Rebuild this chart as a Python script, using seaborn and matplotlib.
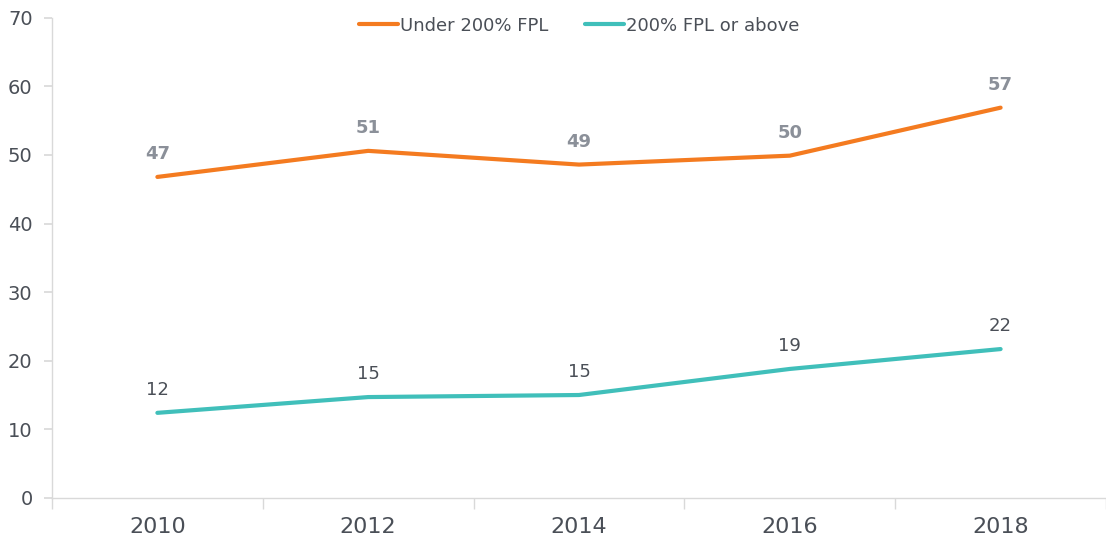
import matplotlib.pyplot as plt
import numpy as np
import pandas as pd
import seaborn as sns

YEARS = ["2010", "2012", "2014", "2016", "2018"]
UNDER_200 = [46.8, 50.6, 48.6, 49.9, 56.9]
ABOVE_200 = [12.4, 14.7, 15.0, 18.8, 21.7]
UNDER_LABELS = ["47", "51", "49", "50", "57"]
ABOVE_LABELS = ["12", "15", "15", "19", "22"]
SERIES = ["Under 200% FPL", "200% FPL or above"]

ORANGE = "#f47b20"
TEAL = "#40bfba"
TEXT = "#4a4f57"
GRID = "#d9d9d9"

df = pd.DataFrame({
    "pos": list(range(len(YEARS))) * 2,
    "value": UNDER_200 + ABOVE_200,
    "series": [SERIES[0]] * len(YEARS) + [SERIES[1]] * len(YEARS),
})

sns.set_theme(style="white")
plt.rcParams["font.family"] = ["DejaVu Sans"]

fig = plt.figure(figsize=(11.06, 5.4), dpi=100)
ax = fig.add_axes([0.047, 0.078, 0.953, 0.889])

sns.lineplot(data=df, x="pos", y="value", hue="series", palette=[ORANGE, TEAL],
             linewidth=3, ax=ax, legend=True)

for i, lab in enumerate(UNDER_LABELS):
    ax.annotate(lab, (i, UNDER_200[i]), xytext=(0, 10), textcoords="offset points",
                ha="center", va="bottom", fontsize=13, fontweight="bold", color="#8b9099")
for i, lab in enumerate(ABOVE_LABELS):
    ax.annotate(lab, (i, ABOVE_200[i]), xytext=(0, 10), textcoords="offset points",
                ha="center", va="bottom", fontsize=13, color=TEXT)

ax.set_xlim(-0.5, len(YEARS) - 0.5)
ax.set_ylim(0, 70)
ax.set_yticks(range(0, 71, 10))
ax.set_xticks(range(len(YEARS)))
ax.set_xticklabels(YEARS)
ax.set_xticks(np.arange(-0.5, len(YEARS), 1.0), minor=True)
ax.tick_params(axis="x", which="major", bottom=True, length=0, labelsize=16,
               labelcolor=TEXT, pad=14)
ax.tick_params(axis="x", which="minor", bottom=True, direction="out", length=8,
               color=GRID, width=1)
ax.tick_params(axis="y", left=True, direction="out", length=6, color=GRID,
               labelsize=14, labelcolor=TEXT, pad=8)
ax.set_xlabel("")
ax.set_ylabel("")

for side in ["top", "right"]:
    ax.spines[side].set_visible(False)
for side in ["left", "bottom"]:
    ax.spines[side].set_color(GRID)
    ax.spines[side].set_linewidth(1)

leg = ax.legend(loc="upper center", bbox_to_anchor=(0.5, 1.036), ncol=2, frameon=False,
                fontsize=13, handlelength=2.2, handletextpad=0.1, columnspacing=2.0)
for t in leg.get_texts():
    t.set_color(TEXT)

fig.savefig("out.png", dpi=100)
